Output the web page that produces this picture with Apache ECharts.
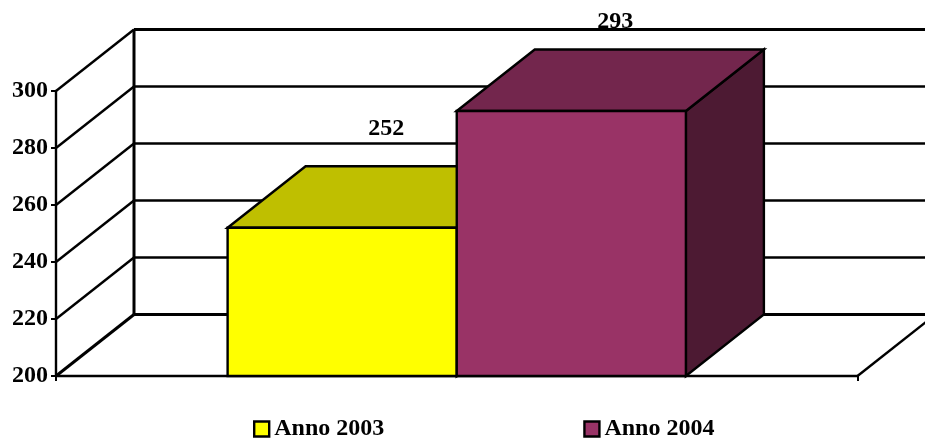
<!DOCTYPE html>
<html><head><meta charset="utf-8">
<style>html,body{margin:0;padding:0;background:#fff}#c{width:925px;height:444px}</style>
<script src="https://cdn.jsdelivr.net/npm/echarts@6/dist/echarts.min.js"></script>
</head><body><div id="c"></div>
<script>
const categories = ['Anni'];
const seriesNames = ['Anno 2003', 'Anno 2004'];
const values2003 = [252];
const values2004 = [293];
const yTicks = [200, 220, 240, 260, 280, 300];

const FONT = '"Liberation Serif","Times New Roman",serif';
const DX = 78, DY = -61.5, BAR_FRACTION = 229 / 801, LW = 2.4;
const chart = echarts.init(document.getElementById('c'));

function wall(params, api) {
  const v = api.value(1);
  const p = api.coord([0, v]);
  const w = api.size([1, 0])[0];
  const x0 = p[0] - w / 2, y = p[1];
  const edge = v === 200 || v === 300;
  const thick = edge ? 3 : 2.4;
  const line = (x1, y1, x2, y2, lw) => ({type: 'line', shape: {x1, y1, x2, y2},
    style: {stroke: '#000', lineWidth: lw, fill: null}});
  const children = [
    line(x0, y, x0 + DX, y + DY, v === 200 ? 3 : 2.4),
    line(x0 + DX, y + DY, x0 + w + DX, y + DY, thick)
  ];
  if (v === 200) {
    const top = api.coord([0, 300])[1];
    children.push(line(x0 + DX, y + DY, x0 + DX, top + DY, 3));
    children.push(line(x0 + w, y, x0 + w + DX, y + DY, 2.4));
  }
  return {type: 'group', children};
}

function box(colors, side, labelDx, labelDy) {
  return function (params, api) {
    const v = api.value(1);
    const top = api.coord([0, v]);
    const base = api.coord([0, 200]);
    const bw = api.size([1, 0])[0] * BAR_FRACTION;
    const l = side < 0 ? top[0] - bw : top[0];
    const r = l + bw, t = top[1], b = base[1];
    const st = fill => ({fill, stroke: '#000', lineWidth: LW, lineJoin: 'miter'});
    return {type: 'group', children: [
      {type: 'polygon', shape: {points: [[r, t], [r + DX, t + DY], [r + DX, b + DY], [r, b]]}, style: st(colors[2])},
      {type: 'polygon', shape: {points: [[l, t], [l + DX, t + DY], [r + DX, t + DY], [r, t]]}, style: st(colors[1])},
      {type: 'rect', shape: {x: l, y: t, width: bw, height: b - t}, style: st(colors[0])},
      {type: 'text', z2: 100, style: {text: String(v), x: (l + r) / 2 + labelDx, y: t + DY + labelDy,
        align: 'center', verticalAlign: 'middle', fill: '#000',
        font: 'bold 24px ' + FONT}}
    ]};
  };
}

chart.setOption({
  animation: false,
  backgroundColor: '#fff',
  grid: {left: 56, right: 67.5, top: 91, bottom: 68, containLabel: false},
  legend: {
    left: 248, top: 412, itemWidth: 15, itemHeight: 15, itemGap: 199,
    data: seriesNames.map(name => ({name, icon: 'rect'})),
    textStyle: {fontFamily: FONT, fontWeight: 'bold', fontSize: 24, color: '#000'},
    itemStyle: {borderColor: '#000', borderWidth: 2.4}
  },
  xAxis: {
    type: 'category', data: categories,
    axisLine: {show: true, lineStyle: {color: '#000', width: 2.4}},
    axisTick: {show: true, alignWithLabel: false, length: 5, lineStyle: {color: '#000', width: 2}},
    axisLabel: {show: false}, splitLine: {show: false}
  },
  yAxis: {
    type: 'value', min: 200, max: 300, interval: 20,
    axisLine: {show: true, lineStyle: {color: '#000', width: 2.4}},
    axisTick: {show: true, length: 5, lineStyle: {color: '#000', width: 2}},
    axisLabel: {margin: 8, color: '#000', fontFamily: FONT, fontWeight: 'bold', fontSize: 24, padding: [3, 0, 0, 0]},
    splitLine: {show: false}
  },
  series: [
    {type: 'custom', name: 'walls', z: 1, silent: true, clip: false,
     renderItem: wall, encode: {x: 0, y: 1},
     data: yTicks.map(t => [0, t])},
    {type: 'custom', name: seriesNames[0], z: 2, clip: false,
     itemStyle: {color: '#FFFF00'},
     renderItem: box(['#FFFF00', '#BFBF00', '#808000'], -1, 44, -38),
     encode: {x: 0, y: 1},
     data: values2003.map((v, i) => [i, v])},
    {type: 'custom', name: seriesNames[1], z: 3, clip: false,
     itemStyle: {color: '#993366'},
     renderItem: box(['#993366', '#73264D', '#4D1A33'], 1, 44, -28),
     encode: {x: 0, y: 1},
     data: values2004.map((v, i) => [i, v])}
  ]
});
</script></body></html>
